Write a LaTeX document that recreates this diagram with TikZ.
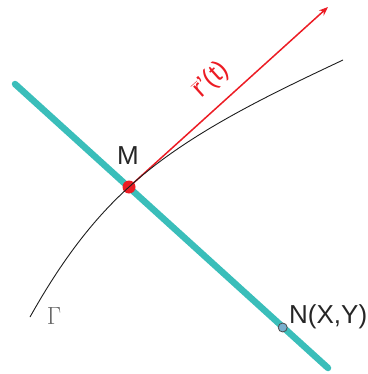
\documentclass[tikz,border=0pt]{standalone}
\usepackage{fontspec}
\setmainfont{Liberation Sans}
\usetikzlibrary{arrows.meta}
\definecolor{tealline}{RGB}{58,190,186}
\definecolor{redv}{RGB}{236,28,36}
\definecolor{ndot}{RGB}{120,175,205}
\definecolor{curvec}{RGB}{30,30,30}
\tikzset{
  normalline/.style={tealline, line width=6.5pt, line cap=round},
  tangentarrow/.style={redv, line width=1.5pt, -{Stealth[length=9pt,width=7pt]}},
  curveline/.style={curvec, line width=0.9pt},
  lbl/.style={text=black!85, font=\fontsize{26}{26}\selectfont, inner sep=0pt},
}
\begin{document}
\begin{tikzpicture}[x=1pt,y=-1pt]
\useasboundingbox (0,0) rectangle (367,374);
\coordinate (A) at (15,84);
\coordinate (B) at (328,368);
\coordinate (M) at (129,187);
\coordinate (T) at (328,7);
\coordinate (C0) at (30,317);
\coordinate (C5) at (343,60);
\draw[normalline] (A) -- (B);
\draw[tangentarrow] (M) -- (T);
\fill[redv] (M) circle (6.5);
\draw[curveline] (C0) .. controls (57,269) and (88,224) .. (M)
  .. controls (188,133) and (271,94) .. (C5);
\node[circle, draw=black!70, fill=ndot, line width=0.8pt, minimum size=9pt, inner sep=0pt] (N) at (282.7,327.5) {};
\node[lbl, anchor=center] (Mlabel) at (128,155.5) {M};
\node[lbl, anchor=base west] (Nlabel) at (289,323) {N(X,Y)};
\node[text=black!60, font=\fontsize{25}{25}\selectfont, inner sep=0pt] (Gamma) at (54,316) {$\Gamma$};
\node[text=redv, rotate=42, font=\fontsize{26}{26}\selectfont, inner sep=0pt] (rlabel) at (211,80) {$\overline{\hbox{r}}$'(t)};
\end{tikzpicture}
\end{document}
